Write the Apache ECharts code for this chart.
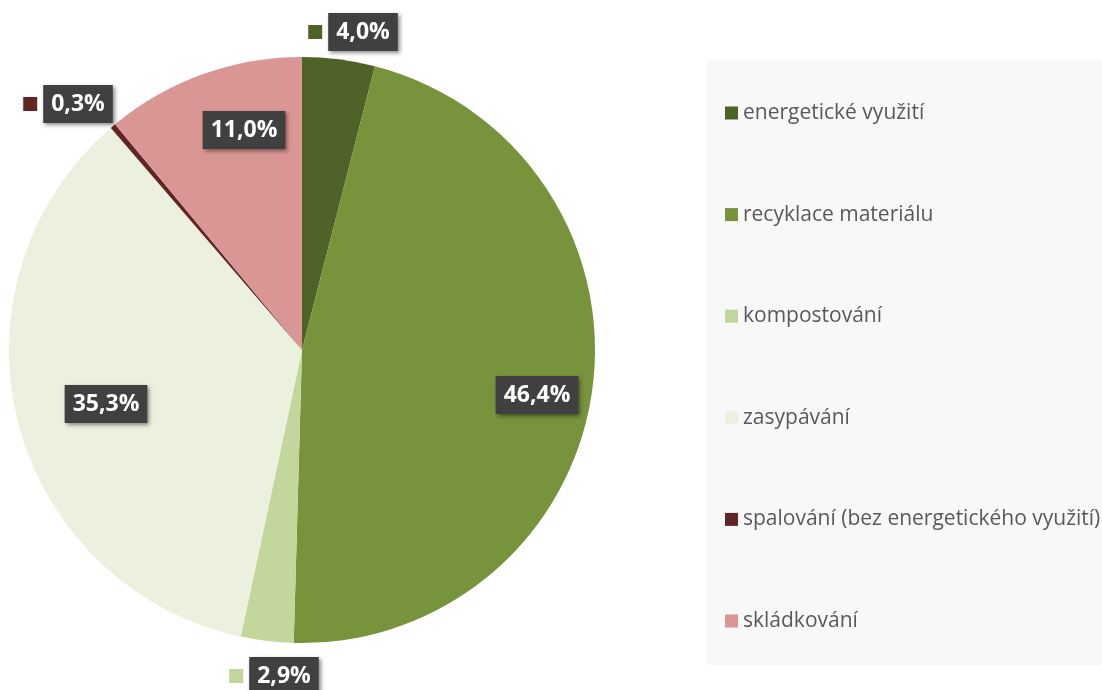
<!DOCTYPE html>
<html>
<head>
<meta charset="utf-8">
<script src="https://cdn.jsdelivr.net/npm/echarts@6/dist/echarts.min.js"></script>
<style>
  html, body { margin: 0; padding: 0; background: #fff; }
  #chart { width: 1102px; height: 690px; }
</style>
</head>
<body>
<div id="chart"></div>
<script>
// data
var categories = ['energetické využití', 'recyklace materiálu', 'kompostování', 'zasypávání', 'spalování (bez energetického využití)', 'skládkování'];
var shares = [4.0, 46.4, 2.9, 35.3, 0.3, 11.0];

var colors = ['#4f6228', '#77933c', '#c3d69b', '#ebf1de', '#632523', '#d99694'];
// which labels sit outside the pie (they get a colour key)
var outsideLabel = [true, false, true, false, true, false];
// label centres, like the Excel placement
var labelPos = [[353, 32], [537, 395], [274, 676], [106, 404], [68, 104], [244, 130]];

var chart = echarts.init(document.getElementById('chart'));

var pieData = categories.map(function (name, i) {
    return {
        name: name,
        value: shares[i],
        itemStyle: { color: colors[i] },
        label: {
            rich: {
                sq: { backgroundColor: colors[i], width: 14, height: 14 }
            }
        }
    };
});

var option = {
    animation: false,
    graphic: [{
        type: 'rect',
        shape: { x: 707, y: 60, width: 400, height: 605 },
        style: { fill: '#f8f8f8' },
        z: -1
    }],
    legend: {
        orient: 'vertical',
        left: 720,
        top: 97,
        itemWidth: 13,
        itemHeight: 13,
        itemGap: 79.6,
        icon: 'rect',
        textStyle: {
            fontFamily: 'Open Sans',
            fontSize: 21,
            lineHeight: 22,
            color: '#595959'
        },
        data: categories
    },
    series: [{
        type: 'pie',
        center: [302, 350],
        radius: 293,
        startAngle: 90,
        clockwise: true,
        data: pieData,
        labelLine: { show: false },
        label: {
            show: true,
            position: 'inside',
            formatter: function (p) {
                var txt = p.value.toFixed(1).replace('.', ',') + '%';
                return outsideLabel[p.dataIndex] ? '{sq|}{gap|}{box|' + txt + '}' : '{box|' + txt + '}';
            },
            rich: {
                gap: { width: 6 },
                box: {
                    fontFamily: 'Open Sans',
                    fontWeight: 'bold',
                    fontSize: 23,
                    lineHeight: 26,
                    color: '#ffffff',
                    backgroundColor: '#404040',
                    padding: [8, 8, 7, 8],
                    shadowColor: 'rgba(0,0,0,0.45)',
                    shadowBlur: 4,
                    shadowOffsetX: 2,
                    shadowOffsetY: 2
                }
            }
        },
        labelLayout: function (params) {
            var pos = labelPos[params.dataIndex];
            return { x: pos[0], y: pos[1], align: 'center', verticalAlign: 'middle' };
        }
    }]
};

chart.setOption(option);
</script>
</body>
</html>
